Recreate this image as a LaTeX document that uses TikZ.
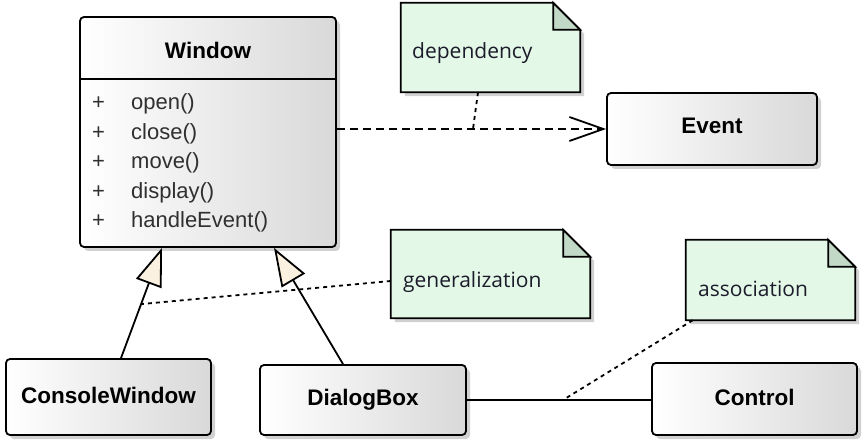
\documentclass[tikz,border=0pt]{standalone}
\usepackage{fontspec}
\setmainfont{Liberation Sans}
\newfontfamily\notefont{Open Sans}
\usetikzlibrary{arrows.meta,shadows,calc}
\definecolor{notefill}{HTML}{E3F8E6}
\definecolor{foldfill}{HTML}{C2D9C7}
\definecolor{cream}{HTML}{FBF1E1}
\definecolor{methodcol}{HTML}{303030}
\definecolor{notetext}{HTML}{1C1C2C}
\tikzset{
  cls/.style={draw, line width=1.8pt, rounded corners=4pt, left color=white, right color=black!15,
    inner sep=0pt, drop shadow={shadow xshift=4pt, shadow yshift=-4pt, fill=black!18, opacity=1}},
  lbl/.style={font=\fontsize{22.5}{26}\selectfont\bfseries, anchor=base},
  meth/.style={font=\fontsize{22}{26}\selectfont, text=methodcol, anchor=base west, inner sep=0pt},
  notebox/.style={inner sep=0pt},
  notetxt/.style={font=\notefont\fontsize{21}{25}\selectfont, text=notetext, anchor=base west, inner sep=0pt},
  notepath/.style={draw, line width=1.8pt, fill=notefill,
    drop shadow={shadow xshift=4pt, shadow yshift=-4pt, fill=black!18, opacity=1}},
  link/.style={line width=1.8pt, dash pattern=on 4pt off 4pt},
  genarrow/.style={line width=1.8pt, -{Triangle[open, length=38pt, width=27pt, fill=cream]}},
  deparrow/.style={line width=1.8pt, dash pattern=on 8pt off 5pt, -{Straight Barb[length=34pt, width=24pt]}},
  assocline/.style={line width=1.8pt},
}
\newcommand{\drawnote}[1]{%
  \path[notepath] (#1.north west) -- ([xshift=-27pt]#1.north east) -- ([yshift=-27pt]#1.north east)
     -- (#1.south east) -- (#1.south west) -- cycle;
  \draw[line width=1.8pt, fill=foldfill] ([xshift=-27pt]#1.north east) -- ([xshift=-27pt,yshift=-27pt]#1.north east)
     -- ([yshift=-27pt]#1.north east) -- cycle;
}
\begin{document}
\begin{tikzpicture}[x=1pt,y=-1pt]
\useasboundingbox (0,0) rectangle (864,443);

% class boxes
\node[cls, minimum width=256pt, minimum height=230pt] (window) at (208,132) {};
\draw[line width=1.8pt] (window.west |- 0,79) -- (window.east |- 0,79);
\node[lbl] (wname) at (208,59) {Window};
\node[meth] (p1) at (92,110) {+};
\node[meth] (m1) at (131,110) {open()};
\node[meth] (p2) at (92,139.5) {+};
\node[meth] (m2) at (131,139.5) {close()};
\node[meth] (p3) at (92,169) {+};
\node[meth] (m3) at (131,169) {move()};
\node[meth] (p4) at (92,198.5) {+};
\node[meth] (m4) at (131,198.5) {display()};
\node[meth] (p5) at (92,228) {+};
\node[meth] (m5) at (131,228) {handleEvent()};

\node[cls, minimum width=210pt, minimum height=72pt] (event) at (712,129) {};
\node[lbl] (eventname) at (712,134) {Event};

\node[cls, minimum width=205pt, minimum height=76pt] (cw) at (108.5,397) {};
\node[lbl] (cwname) at (108.5,403) {ConsoleWindow};

\node[cls, minimum width=206pt, minimum height=70pt] (db) at (363,400) {};
\node[lbl] (dbname) at (363,405) {DialogBox};

\node[cls, minimum width=205pt, minimum height=72pt] (ctrl) at (754.5,399) {};
\node[lbl] (ctrlname) at (754.5,405) {Control};

% notes
\node[notebox, minimum width=179pt, minimum height=89pt] (depnote) at (490.5,47.5) {};
\drawnote{depnote}
\node[notetxt] (deptext) at (412,59) {dependency};

\node[notebox, minimum width=199pt, minimum height=88pt] (gennote) at (490.5,274) {};
\drawnote{gennote}
\node[notetxt] (gentext) at (403,288) {generalization};

\node[notebox, minimum width=169pt, minimum height=80pt] (asnote) at (770.5,280) {};
\drawnote{asnote}
\node[notetxt] (astext) at (698,297) {association};

% connectors
\draw[deparrow] (window.east |- event.west) -- (event.west);
\draw[genarrow] (cw.north -| 121,0) -- (window.south -| 162,0);
\draw[genarrow] (db.north -| 343,0) -- (window.south -| 274,0);
\draw[assocline] (db.east) -- (db.east -| ctrl.west);

\coordinate (depend) at (473,129);
\coordinate (genend) at (142,304);
\coordinate (asend) at (563,400);
\draw[link] (depnote.south -| 478,0) -- (depend);
\draw[link] (gennote.west |- 0,281) -- (genend);
\draw[link] ($(asnote.south west)+(7,0)$) -- (asend);
\end{tikzpicture}
\end{document}
